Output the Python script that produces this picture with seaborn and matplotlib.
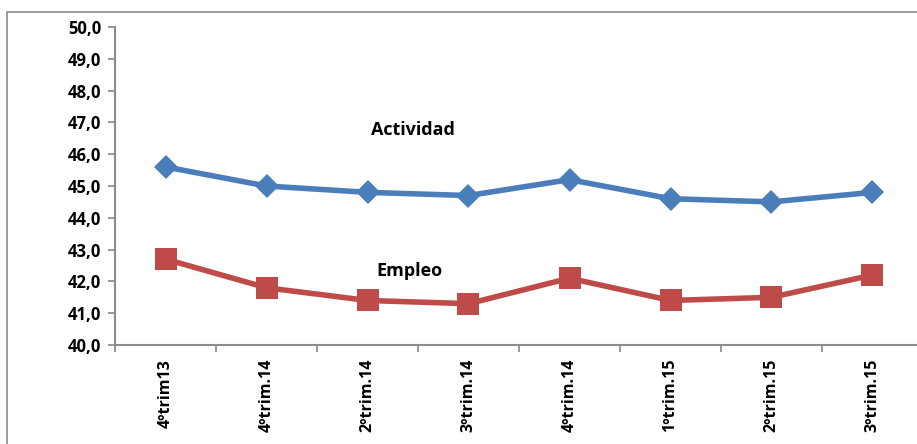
import matplotlib
matplotlib.use("Agg")
import matplotlib.pyplot as plt
import seaborn as sns
import pandas as pd
from matplotlib.patches import Rectangle
from matplotlib.ticker import FuncFormatter

categories = ["4ºtrim13", "4ºtrim.14", "2ºtrim.14", "3ºtrim.14", "4ºtrim.14", "1ºtrim.15", "2ºtrim.15", "3ºtrim.15"]
actividad = [45.6, 45.0, 44.8, 44.7, 45.2, 44.6, 44.5, 44.8]
empleo = [42.7, 41.8, 41.4, 41.3, 42.1, 41.4, 41.5, 42.2]

sns.set_theme(style="white")
plt.rcParams['font.family'] = ['Open Sans', 'DejaVu Sans']

W, H = 917, 444
fig = plt.figure(figsize=(W / 100, H / 100), dpi=100)
# frame border
fig.patches.append(Rectangle((7 / W, -0.1), 1.2, 1 - 12 / H + 0.1, transform=fig.transFigure,
                             fill=False, edgecolor="#8c8c8c", linewidth=1.2))
ax = fig.add_axes([115 / W, 1 - 345 / H, (923 - 115) / W, (345 - 27) / H])

df = pd.DataFrame({"x": list(range(len(categories))), "Actividad": actividad, "Empleo": empleo})
sns.lineplot(data=df, x="x", y="Actividad", ax=ax, color="#4a7ebb", linewidth=4,
             marker="D", markersize=12, markeredgewidth=0)
sns.lineplot(data=df, x="x", y="Empleo", ax=ax, color="#be4b48", linewidth=4,
             marker="s", markersize=16, markeredgewidth=0)

ax.set_xlim(-0.5, len(categories) - 0.5)
ax.set_ylim(40, 50)
ax.set_yticks([40 + i for i in range(11)])
ax.yaxis.set_major_formatter(FuncFormatter(lambda v, p: f"{v:.1f}".replace(".", ",")))
ax.set_xticks([i - 0.5 for i in range(len(categories) + 1)], minor=False)
ax.set_xticklabels([])
ax.set_xticks(list(range(len(categories))), minor=True)
ax.set_xticklabels(categories, minor=True, rotation=90, fontweight="bold", fontsize=11.5, color="black")
ax.tick_params(axis="x", which="minor", length=0, pad=10)
ax.tick_params(axis="x", which="major", length=5, color="#8c8c8c", direction="out", bottom=True)
ax.tick_params(axis="y", length=5, color="#8c8c8c", direction="out", left=True, labelsize=12,
               pad=5, labelcolor="black")
for lbl in ax.get_yticklabels():
    lbl.set_fontweight("bold")
ax.set_xlabel("")
ax.set_ylabel("")
for s in ["top", "right"]:
    ax.spines[s].set_visible(False)
for s in ["left", "bottom"]:
    ax.spines[s].set_color("#8c8c8c")
    ax.spines[s].set_linewidth(1.5)

ax.text(2.45, 46.75, "Actividad", fontweight="bold", fontsize=13, ha="center", va="center", color="black")
ax.text(2.42, 42.33, "Empleo", fontweight="bold", fontsize=13, ha="center", va="center", color="black")

fig.savefig("out.png", dpi=100)
